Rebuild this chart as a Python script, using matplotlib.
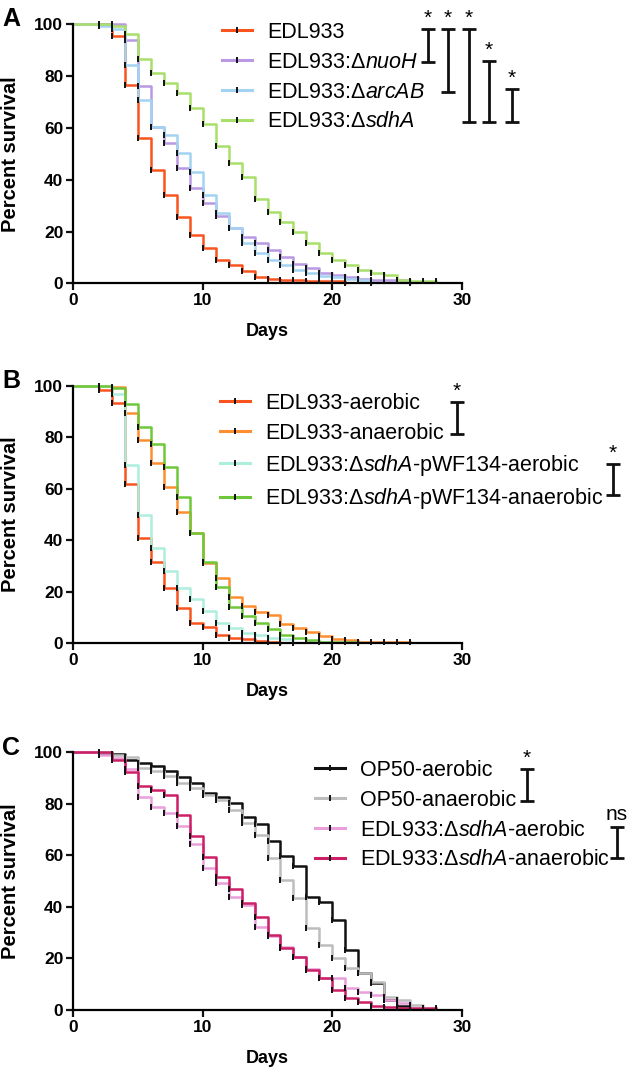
# survival curves, three panels (A/B/C) - redraw
import matplotlib
matplotlib.use("Agg")
import matplotlib.pyplot as plt
from matplotlib.lines import Line2D

W, H = 634, 1075

plt.rcParams.update({
    "font.family": ["Liberation Sans", "DejaVu Sans"],
    "mathtext.fontset": "custom",
    "mathtext.rm": "Liberation Sans",
    "mathtext.it": "Liberation Sans:italic",
    "axes.linewidth": 1.6,
})

# ---- data: percent survival, index = day (0, 1, 2, ...) ----
a_labels = ["EDL933", "EDL933:Δ$\\mathit{nuoH}$", "EDL933:Δ$\\mathit{arcAB}$", "EDL933:Δ$\\mathit{sdhA}$"]
a_colors = ["#f9541f", "#b899e2", "#a3d3f2", "#a9df6b"]
a_red    = [100, 100, 100, 95.5, 76.5, 56.2, 43.8, 34.0, 25.6, 18.5, 13.8, 9.0, 7.1, 4.7, 2.6,
            1.6, 1.2, 1.2, 0.8, 0.8, 0.8, 0]
a_purple = [100, 100, 100, 100, 93.8, 76.0, 60.5, 54.0, 44.4, 36.9, 30.9, 26.0, 21.2, 18.0, 15.4,
            12.9, 10.3, 7.5, 5.8, 4.1, 3.2, 2.5, 1.6, 1.3, 1.3, 1.3, 0]
a_blue   = [100, 100, 99.2, 98.0, 84.2, 70.8, 60.5, 57.3, 50.2, 43.1, 34.1, 27.3, 21.3, 15.4, 11.6,
            9.0, 7.1, 5.1, 3.9, 2.9, 2.3, 1.7, 1.1, 0]
a_green  = [100, 100, 100, 99.5, 96.4, 86.7, 81.1, 77.2, 73.4, 67.5, 61.5, 53.0, 46.3, 41.2, 32.7,
            27.6, 23.8, 20.0, 15.5, 11.6, 9.0, 7.1, 5.1, 4.1, 3.1, 1.4, 0.7, 0.7, 0.7]

b_labels = ["EDL933-aerobic", "EDL933-anaerobic", "EDL933:Δ$\\mathit{sdhA}$-pWF134-aerobic",
            "EDL933:Δ$\\mathit{sdhA}$-pWF134-anaerobic"]
b_colors = ["#f9541f", "#ff8e30", "#aeeedd", "#6fc83a"]
b_red    = [100, 100, 98.3, 93.1, 61.8, 40.7, 31.7, 21.3, 13.6, 7.8, 6.5, 3.2, 2.2, 1.6, 0.9, 0.4, 0]
b_orange = [100, 100, 100, 99.6, 89.3, 78.9, 70.1, 60.8, 51.1, 42.7, 31.0, 25.2, 18.1, 14.4, 12.1,
            10.8, 7.5, 5.8, 4.5, 3.0, 1.6, 1.1, 0.4, 0.4, 0.4, 0.4, 0.4]
b_cyan   = [100, 100, 100, 96.6, 69.2, 49.8, 37.1, 28.2, 21.6, 17.1, 12.7, 7.8, 5.8, 4.1, 3.2,
            2.2, 1.7, 0]
b_green  = [100, 100, 100, 99.2, 92.9, 83.8, 77.4, 68.6, 56.9, 42.7, 31.7, 22.0, 14.2, 10.6, 8.0,
            5.5, 3.3, 2.0, 1.1, 0.6, 0.6, 0.6, 0]

c_labels = ["OP50-aerobic", "OP50-anaerobic", "EDL933:Δ$\\mathit{sdhA}$-aerobic",
            "EDL933:Δ$\\mathit{sdhA}$-anaerobic"]
c_colors = ["#111111", "#bdbdbd", "#e89fdb", "#cc1f66"]
c_black  = [100, 100, 99.6, 99.2, 97.0, 95.7, 94.7, 92.9, 90.6, 88.2, 84.3, 82.5, 80.2, 75.0, 72.2,
            65.7, 59.8, 55.9, 44.0, 42.0, 34.9, 23.3, 14.5, 10.4, 3.9, 1.5, 0.6]
c_gray   = [100, 100, 100, 99.1, 98.3, 93.8, 92.9, 90.8, 88.0, 86.0, 83.4, 81.5, 77.6, 72.7, 67.9,
            58.9, 50.5, 43.3, 31.7, 25.2, 20.0, 16.2, 14.2, 11.0, 5.2, 3.9, 2.0, 0.6]
c_pink   = [100, 100, 99.0, 97.7, 93.4, 82.5, 78.7, 76.3, 71.4, 64.4, 55.0, 49.4, 44.0, 40.7, 32.3,
            28.7, 24.3, 20.4, 15.8, 12.3, 12.3, 8.4, 7.0, 5.8, 3.9, 2.6, 0.6]
c_crim   = [100, 100, 100, 97.0, 92.5, 87.1, 85.4, 83.4, 75.7, 67.5, 59.5, 51.7, 46.8, 41.4, 36.2,
            29.1, 23.9, 20.4, 15.5, 12.3, 7.8, 4.5, 3.2, 1.5, 1.0, 0.6, 0.6, 0.6, 0.6]

x_ticks = [0, 10, 20, 30]
y_ticks = [0, 20, 40, 60, 80, 100]


def fx(px):
    return px / W


def fy(py):
    return 1 - py / H


def survival_panel(rect, series, colors):
    ax = fig.add_axes(rect)
    for vals, c in zip(series, colors):
        days = list(range(len(vals)))
        ax.step(days, vals, where="post", color=c, lw=1.8, clip_on=False, zorder=2)
        ax.plot(days[2:], vals[2:], ls="none", marker="|", ms=4.5, mew=1.4,
                color="#111111", clip_on=False, zorder=3)
    ax.set_xlim(0, 30)
    ax.set_ylim(0, 100)
    for sp in ("top", "right"):
        ax.spines[sp].set_visible(False)
    ax.set_xticks(x_ticks)
    ax.set_xticklabels([str(t) for t in x_ticks], fontweight="bold")
    ax.set_yticks(y_ticks)
    ax.set_yticklabels([str(t) for t in y_ticks], fontweight="bold")
    ax.tick_params(direction="out", length=5, width=1.6, labelsize=12.5, pad=2, color="#111111")
    ax.set_xlabel("Days", fontsize=13, fontweight="bold")
    ax.xaxis.set_label_coords(0.5, -0.155)
    ax.set_ylabel("Percent survival", fontsize=14.5, fontweight="bold")
    ax.yaxis.set_label_coords(-0.135, 0.5)
    return ax


def add_legend(ax, labels, colors, x_px, top_px):
    handles = [Line2D([0], [0], color=c, lw=2.2, marker="|", ms=5, mew=1.4, mec="#111111")
               for c in colors]
    ax.legend(handles, labels, loc="upper left", bbox_to_anchor=(fx(x_px), fy(top_px)),
              bbox_transform=fig.transFigure, frameon=False, fontsize=15.5,
              handlelength=1.4, handletextpad=0.7, labelspacing=0.41,
              borderpad=0, borderaxespad=0, numpoints=1)


def bracket(x, y0, y1, mark, cap=7):
    kw = dict(transform=fig.transFigure, color="#111111", lw=2.0, solid_capstyle="butt")
    fig.add_artist(Line2D([fx(x), fx(x)], [fy(y0), fy(y1)], **kw))
    for y in (y0, y1):
        fig.add_artist(Line2D([fx(x - cap), fx(x + cap)], [fy(y), fy(y)], **kw))
    if mark == "*":
        fig.text(fx(x), fy(y0 - 1), "*", ha="center", va="bottom", fontsize=15)
    else:
        fig.text(fx(x), fy(y0 - 3), mark, ha="center", va="bottom", fontsize=15)


fig = plt.figure(figsize=(W / 100, H / 100), dpi=100)

ax_a = survival_panel([fx(73), fy(283.3), fx(389), 259 / H],
                      [a_red, a_purple, a_blue, a_green], a_colors)
ax_b = survival_panel([fx(73), fy(643.3), fx(389), 257.6 / H],
                      [b_red, b_orange, b_cyan, b_green], b_colors)
ax_c = survival_panel([fx(73), fy(1010), fx(389), 257.7 / H],
                      [c_black, c_gray, c_pink, c_crim], c_colors)

add_legend(ax_a, a_labels, a_colors, 222, 22)
add_legend(ax_b, b_labels, b_colors, 220, 393)
add_legend(ax_c, c_labels, c_colors, 315, 760)

# significance bars
bracket(428, 29, 62, "*")
bracket(448, 29, 92, "*")
bracket(469, 29, 122, "*")
bracket(489, 61, 122, "*")
bracket(512, 89, 122, "*")
bracket(457, 402, 434, "*")
bracket(613, 464, 495, "*")
bracket(527, 769, 801, "*")
bracket(617, 827, 858, "ns")

for letter, ypx in (("A", 7), ("B", 369), ("C", 736)):
    fig.text(fx(2), fy(ypx), letter, ha="left", va="top", fontsize=18, fontweight="bold")

fig.savefig("out.png", dpi=100)
